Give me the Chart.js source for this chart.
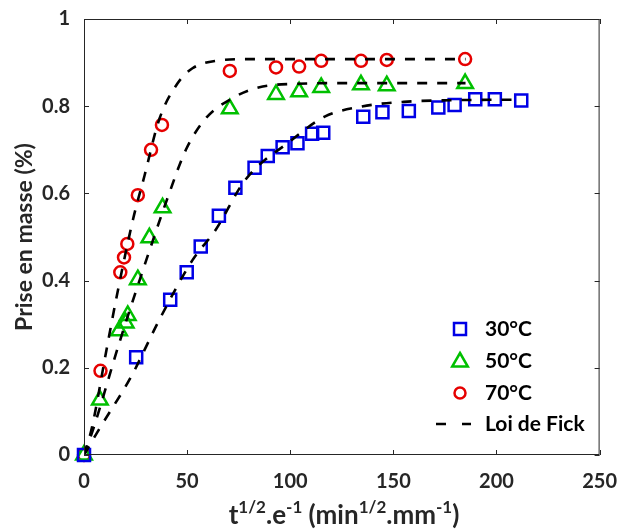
<!DOCTYPE html>
<html>
<head>
<meta charset="utf-8">
<script src="https://cdn.jsdelivr.net/npm/chart.js@4"></script>
<style>
  body { margin: 0; background: #fff; }
  #wrap { width: 624px; height: 529px; }
</style>
</head>
<body>
<div id="wrap"><canvas id="grafico" width="624" height="529"></canvas></div>
<script>
// donnees
const x30 = [0, 25.3, 41.8, 49.8, 56.6, 65.4, 73.4, 82.7, 89.1, 96.3, 103.5, 110.6, 116, 135.4, 144.7, 157.5, 171.8, 179.7, 189.7, 199.2, 212];
const y30 = [0, 0.224, 0.356, 0.419, 0.478, 0.549, 0.613, 0.659, 0.686, 0.706, 0.715, 0.737, 0.739, 0.776, 0.786, 0.789, 0.797, 0.803, 0.816, 0.816, 0.813];

const x50 = [0, 7.7, 17, 20.2, 21.2, 26.1, 31.7, 38.1, 70.7, 93.1, 104.3, 115, 134.3, 146.8, 184.8];
const y50 = [0, 0.126, 0.285, 0.303, 0.32, 0.402, 0.498, 0.567, 0.794, 0.827, 0.833, 0.843, 0.849, 0.847, 0.852];

const x70 = [0, 8.0, 17.6, 19.4, 21, 26.1, 32.5, 37.8, 70.7, 93.1, 104.3, 115, 134.3, 146.8, 184.8];
const y70 = [0, 0.193, 0.419, 0.453, 0.484, 0.596, 0.700, 0.757, 0.881, 0.889, 0.891, 0.904, 0.904, 0.906, 0.908];

// loi de Fick (courbes en pointilles)
const fick30x = [0, 7.7, 22.9, 36.5, 52.6, 63.8, 78.2, 100.6, 116.7, 134.3, 155, 182.4, 212];
const fick30y = [0, 0.062, 0.18, 0.31, 0.447, 0.516, 0.631, 0.722, 0.776, 0.799, 0.810, 0.814, 0.815];
const fick50x = [0, 4.5, 17.3, 26.9, 41.3, 49.4, 59, 71.8, 84.6, 100.6, 130, 185];
const fick50y = [0, 0.06, 0.26, 0.40, 0.60, 0.70, 0.772, 0.818, 0.843, 0.851, 0.853, 0.853];
const fick70x = [0, 3.7, 10.9, 15.7, 23.7, 29.3, 36.5, 45.3, 52.6, 63.8, 80, 120, 185];
const fick70y = [0, 0.06, 0.241, 0.36, 0.539, 0.64, 0.77, 0.852, 0.887, 0.904, 0.908, 0.908, 0.908];

const xTicks = [0, 50, 100, 150, 200, 250];
const yTicks = [0, 0.2, 0.4, 0.6, 0.8, 1];

const BLEU = '#0000e6';
const VERT = '#00c000';
const ROUGE = '#e60000';
const AXE = '#262626';
const POLICE = 'Lato, "Open Sans", sans-serif';

function pts(xs, ys) {
    return xs.map((x, i) => ({ x: x, y: ys[i] }));
}

function marqueurs(label, xs, ys, couleur, forme, r) {
    return {
        label: label,
        data: pts(xs, ys),
        showLine: false,
        pointStyle: forme,
        pointRadius: r,
        pointHoverRadius: r,
        pointBorderWidth: 2.5,
        pointBorderColor: couleur,
        pointBackgroundColor: 'rgba(0,0,0,0)',
        borderColor: couleur,
        clip: false,
        order: 2
    };
}

function fick(xs, ys) {
    return {
        label: 'Loi de Fick',
        data: pts(xs, ys),
        showLine: true,
        borderColor: '#000',
        borderWidth: 2.6,
        borderDash: [10, 10],
        pointRadius: 0,
        cubicInterpolationMode: 'monotone',
        fill: false,
        order: 1
    };
}

// cadre + graduations vers l'interieur, titres, legende
const decor = {
    id: 'decor',
    afterDraw(chart) {
        const ctx = chart.ctx;
        const a = chart.chartArea;
        const sx = chart.scales.x, sy = chart.scales.y;
        ctx.save();
        ctx.strokeStyle = AXE;
        ctx.lineWidth = 1;
        ctx.strokeRect(a.left + 0.5, a.top + 0.5, a.right - a.left - 1, a.bottom - a.top - 1);
        ctx.beginPath();
        xTicks.forEach(v => {
            const p = Math.round(sx.getPixelForValue(v)) + 0.5;
            ctx.moveTo(p, a.bottom); ctx.lineTo(p, a.bottom - 5);
            ctx.moveTo(p, a.top); ctx.lineTo(p, a.top + 5);
        });
        yTicks.forEach(v => {
            const p = Math.round(sy.getPixelForValue(v)) + 0.5;
            ctx.moveTo(a.left, p); ctx.lineTo(a.left + 5, p);
            ctx.moveTo(a.right, p); ctx.lineTo(a.right - 5, p);
        });
        ctx.stroke();

        // titre de l'axe y
        ctx.fillStyle = AXE;
        ctx.save();
        ctx.translate(25, 237);
        ctx.rotate(-Math.PI / 2);
        ctx.font = 'bold 23px ' + POLICE;
        ctx.textAlign = 'center';
        ctx.textBaseline = 'middle';
        ctx.fillText('Prise en masse (%)', 0, 0);
        ctx.restore();

        // titre de l'axe x avec exposants
        const morceaux = [['t', 0], ['1/2', 1], ['.e', 0], ['-1', 1], [' (min', 0], ['1/2', 1], ['.mm', 0], ['-1', 1], [')', 0]];
        const fN = 'bold 26px ' + POLICE, fS = 'bold 17px ' + POLICE;
        let total = 0;
        morceaux.forEach(m => { ctx.font = m[1] ? fS : fN; total += ctx.measureText(m[0]).width; });
        let cx = 344 - total / 2;
        const base = 524;
        ctx.textBaseline = 'alphabetic';
        ctx.textAlign = 'left';
        morceaux.forEach(m => {
            ctx.font = m[1] ? fS : fN;
            ctx.fillText(m[0], cx, m[1] ? base - 11 : base);
            cx += ctx.measureText(m[0]).width;
        });

        // legende
        const lx = 460, tx = 485;
        const rangs = [329, 361, 393, 424];
        ctx.lineWidth = 2.5;
        ctx.strokeStyle = BLEU;
        ctx.strokeRect(lx - 6, rangs[0] - 6, 12, 12);
        ctx.strokeStyle = VERT;
        ctx.beginPath();
        ctx.moveTo(lx, rangs[1] - 8);
        ctx.lineTo(lx + 7.8, rangs[1] + 5.5);
        ctx.lineTo(lx - 7.8, rangs[1] + 5.5);
        ctx.closePath();
        ctx.stroke();
        ctx.strokeStyle = ROUGE;
        ctx.beginPath();
        ctx.arc(lx, rangs[2], 5.5, 0, Math.PI * 2);
        ctx.stroke();
        ctx.strokeStyle = '#000';
        ctx.lineWidth = 2.6;
        ctx.beginPath();
        ctx.moveTo(436, rangs[3]); ctx.lineTo(446, rangs[3]);
        ctx.moveTo(462, rangs[3]); ctx.lineTo(471, rangs[3]);
        ctx.stroke();
        ctx.fillStyle = '#000';
        ctx.font = 'bold 21px ' + POLICE;
        ctx.textBaseline = 'middle';
        ['30°C', '50°C', '70°C', 'Loi de Fick'].forEach((t, i) => ctx.fillText(t, tx, rangs[i]));
        ctx.restore();
    }
};

const ctx = document.getElementById('grafico').getContext('2d');
new Chart(ctx, {
    type: 'scatter',
    data: {
        datasets: [
            marqueurs('30°C', x30, y30, BLEU, 'rect', 8.5),
            marqueurs('50°C', x50, y50, VERT, 'triangle', 9),
            marqueurs('70°C', x70, y70, ROUGE, 'circle', 6),
            fick(fick30x, fick30y),
            fick(fick50x, fick50y),
            fick(fick70x, fick70y)
        ]
    },
    options: {
        responsive: false,
        animation: false,
        layout: { padding: { top: 19, right: 20, left: 0, bottom: 0 } },
        plugins: {
            legend: { display: false },
            tooltip: { enabled: false }
        },
        scales: {
            x: {
                type: 'linear',
                min: 0,
                max: 250,
                afterBuildTicks: s => { s.ticks = xTicks.map(v => ({ value: v })); },
                afterFit: s => { s.height = 74; },
                ticks: {
                    padding: 7,
                    color: AXE,
                    font: { family: POLICE, size: 20, weight: 'bold' }
                },
                grid: { display: false },
                border: { display: false }
            },
            y: {
                min: 0,
                max: 1,
                afterBuildTicks: s => { s.ticks = yTicks.map(v => ({ value: v })); },
                afterFit: s => { s.width = 84; },
                ticks: {
                    padding: 6,
                    color: AXE,
                    font: { family: POLICE, size: 20, weight: 'bold' },
                    callback: v => String(Math.round(v * 10) / 10)
                },
                grid: { display: false },
                border: { display: false }
            }
        }
    },
    plugins: [decor]
});
</script>
</body>
</html>
